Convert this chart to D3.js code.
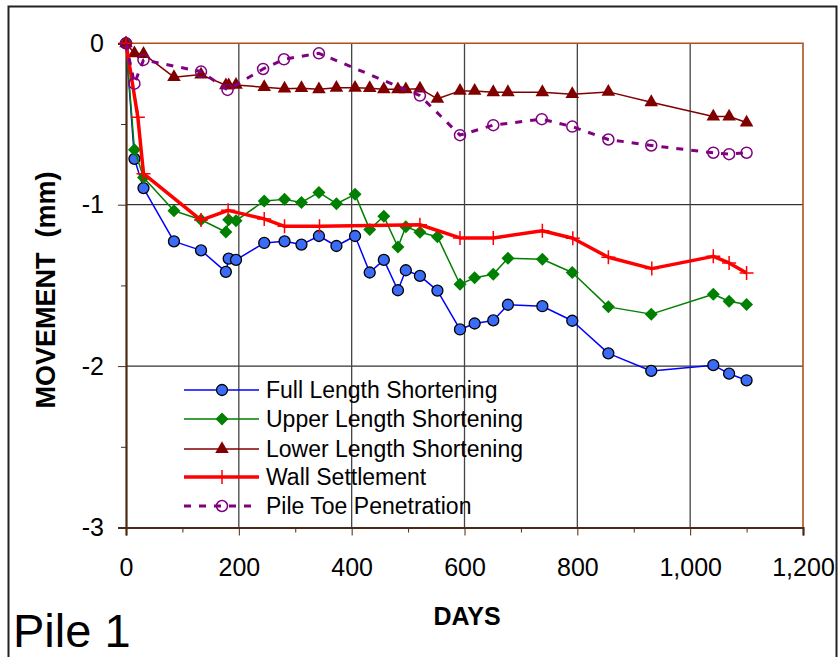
<!DOCTYPE html>
<html>
<head>
<meta charset="utf-8">
<script src="https://cdn.jsdelivr.net/npm/d3@7"></script>
<style>
  body { margin: 0; background: #fff; }
  text { font-family: "Liberation Sans", Arial, sans-serif; fill: #000; }
</style>
</head>
<body>
<svg id="chart" width="839" height="657"></svg>
<script>
// days shared by the three shortening series
var days = [0, 15, 31, 85, 133, 177, 182, 195, 245, 281, 311, 342, 373, 406, 432, 457, 482, 496, 521, 552, 592, 618, 651, 677, 738, 791, 855, 931, 1041, 1069, 1100];
var fullLength = [0, -0.716, -0.897, -1.227, -1.283, -1.416, -1.334, -1.342, -1.237, -1.227, -1.247, -1.194, -1.256, -1.194, -1.42, -1.342, -1.53, -1.406, -1.441, -1.532, -1.773, -1.736, -1.717, -1.62, -1.629, -1.719, -1.921, -2.03, -1.994, -2.047, -2.088];
var upperLength = [0, -0.66, -0.831, -1.037, -1.093, -1.169, -1.093, -1.099, -0.977, -0.967, -0.986, -0.924, -0.994, -0.936, -1.153, -1.072, -1.262, -1.136, -1.171, -1.198, -1.493, -1.453, -1.431, -1.332, -1.338, -1.42, -1.633, -1.678, -1.555, -1.598, -1.618];
var lowerLength = [0, -0.062, -0.066, -0.21, -0.194, -0.26, -0.26, -0.258, -0.272, -0.281, -0.278, -0.285, -0.276, -0.276, -0.278, -0.285, -0.285, -0.285, -0.281, -0.344, -0.295, -0.295, -0.303, -0.303, -0.303, -0.315, -0.301, -0.365, -0.454, -0.454, -0.491];

var wallDays = [0, 21, 31, 133, 181, 245, 281, 343, 521, 592, 651, 738, 792, 855, 932, 1041, 1069, 1100];
var wallSettlement = [0, -0.458, -0.808, -1.095, -1.035, -1.088, -1.134, -1.134, -1.124, -1.206, -1.206, -1.161, -1.208, -1.326, -1.396, -1.32, -1.361, -1.423];

var toeDays = [0, 15, 31, 133, 180, 243, 280, 342, 521, 592, 651, 737, 791, 855, 931, 1041, 1069, 1100];
var toePenetration = [0, -0.25, -0.103, -0.175, -0.289, -0.159, -0.099, -0.062, -0.324, -0.569, -0.507, -0.47, -0.516, -0.596, -0.633, -0.678, -0.687, -0.678];

var xTicks = [0, 200, 400, 600, 800, 1000, 1200];
var yTicks = [0, -1, -2, -3];
var seriesNames = ["Full Length Shortening", "Upper Length Shortening", "Lower Length Shortening", "Wall Settlement", "Pile Toe Penetration"];

var svg = d3.select("#chart");
var plotLeft = 126, plotRight = 803, plotTop = 43.3, plotBottom = 527.5;

var x = d3.scaleLinear().domain([0, 1200]).range([plotLeft, plotRight]);
var y = d3.scaleLinear().domain([-3, 0]).range([plotBottom, plotTop]);

// outer frame
svg.append("rect")
  .attr("x", 8.5).attr("y", 6.5)
  .attr("width", 828).attr("height", 700)
  .attr("fill", "none").attr("stroke", "#222").attr("stroke-width", 2);

// grid
svg.selectAll(".hgrid").data([-1, -2]).enter()
  .append("line")
  .attr("x1", plotLeft).attr("x2", plotRight)
  .attr("y1", function(d) { return y(d); })
  .attr("y2", function(d) { return y(d); })
  .attr("stroke", "#000").attr("stroke-width", 1);
svg.selectAll(".vgrid").data([200, 400, 600, 800, 1000]).enter()
  .append("line")
  .attr("y1", plotTop).attr("y2", plotBottom)
  .attr("x1", function(d) { return x(d); })
  .attr("x2", function(d) { return x(d); })
  .attr("stroke", "#444").attr("stroke-width", 1.3);

// plot border top and right
svg.append("path")
  .attr("d", "M" + plotLeft + "," + plotTop + "H" + plotRight + "V" + plotBottom)
  .attr("fill", "none").attr("stroke", "#b0501c").attr("stroke-width", 1.6);

// minor ticks
svg.append("g")
  .attr("transform", "translate(" + plotLeft + ",0)")
  .call(d3.axisLeft(y).tickValues([-0.5, -1.5, -2.5]).tickSize(5).tickFormat(""))
  .call(function(g) { g.select(".domain").remove(); g.selectAll("line").attr("stroke", "#4b2a14"); });
svg.append("g")
  .attr("transform", "translate(0," + plotBottom + ")")
  .call(d3.axisBottom(x).tickValues([100, 300, 500, 700, 900, 1100]).tickSize(5).tickFormat(""))
  .call(function(g) { g.select(".domain").remove(); g.selectAll("line").attr("stroke", "#4b2a14"); });

// y axis
var yAxis = svg.append("g")
  .attr("transform", "translate(" + plotLeft + ",0)")
  .call(d3.axisLeft(y).tickValues(yTicks).tickSize(8).tickPadding(14)
    .tickFormat(function(d) { return String(d); }));
yAxis.select(".domain").attr("stroke", "#4b2a14").attr("stroke-width", 2.2);
yAxis.selectAll("line").attr("stroke", "#4b2a14");
yAxis.selectAll("text").attr("font-size", 25).attr("font-family", "Liberation Sans");

// x axis
var xAxis = svg.append("g")
  .attr("transform", "translate(0," + plotBottom + ")")
  .call(d3.axisBottom(x).tickValues(xTicks).tickSize(8).tickPadding(23).tickFormat(d3.format(",")));
xAxis.select(".domain").attr("stroke", "#4b2a14").attr("stroke-width", 2.2);
xAxis.selectAll("line").attr("stroke", "#4b2a14");
xAxis.selectAll("text").attr("font-size", 25).attr("font-family", "Liberation Sans");

// axis titles
svg.append("text")
  .attr("x", 467).attr("y", 625)
  .attr("text-anchor", "middle")
  .attr("font-size", 25).attr("font-weight", "bold")
  .text("DAYS");
svg.append("text")
  .attr("transform", "translate(55,290) rotate(-90)")
  .attr("text-anchor", "middle")
  .attr("font-size", 27).attr("font-weight", "bold")
  .attr("xml:space", "preserve")
  .text("MOVEMENT  (mm)");
svg.append("text")
  .attr("x", 13).attr("y", 647)
  .attr("font-size", 47)
  .text("Pile 1");

// series
function pts(xs, ys) {
  return xs.map(function(d, i) { return [d, ys[i]]; });
}
var line = d3.line()
  .x(function(d) { return x(d[0]); })
  .y(function(d) { return y(d[1]); });

var diamond = "M0,-6.5L6.5,0L0,6.5L-6.5,0Z";
var plus = "M-7,0H7M0,-7V7";
var triangle = d3.symbol().type(d3.symbolTriangle).size(80)();

var series = [
  { name: seriesNames[0], data: pts(days, fullLength), color: "#0000ff", width: 1.5, marker: "circle", fill: "#3a6cf8", mstroke: "#000" },
  { name: seriesNames[1], data: pts(days, upperLength), color: "#008000", width: 1.5, marker: diamond, fill: "#008000", mstroke: "none" },
  { name: seriesNames[2], data: pts(days, lowerLength), color: "#800000", width: 1.5, marker: triangle, fill: "#800000", mstroke: "none" },
  { name: seriesNames[3], data: pts(wallDays, wallSettlement), color: "#ff0000", width: 3.5, marker: plus, fill: "none", mstroke: "#ff0000" },
  { name: seriesNames[4], data: pts(toeDays, toePenetration), color: "#800080", width: 3, dash: "7,8", marker: "ocircle", fill: "none", mstroke: "#800080" }
];

function drawMarker(g, s, cx, cy) {
  if (s.marker === "circle") {
    g.append("circle").attr("cx", cx).attr("cy", cy).attr("r", 5.5)
      .attr("fill", s.fill).attr("stroke", s.mstroke).attr("stroke-width", 1.3);
  } else if (s.marker === "ocircle") {
    g.append("circle").attr("cx", cx).attr("cy", cy).attr("r", 5.5)
      .attr("fill", "none").attr("stroke", s.mstroke).attr("stroke-width", 1.5);
  } else {
    g.append("path").attr("d", s.marker)
      .attr("transform", "translate(" + cx + "," + cy + ")")
      .attr("fill", s.fill).attr("stroke", s.mstroke).attr("stroke-width", 1.5);
  }
}

series.forEach(function(s) {
  var g = svg.append("g");
  g.append("path")
    .attr("d", line(s.data))
    .attr("fill", "none")
    .attr("stroke", s.color)
    .attr("stroke-width", s.width)
    .attr("stroke-dasharray", s.dash || null)
    .attr("stroke-linejoin", "round");
  s.data.forEach(function(d) {
    drawMarker(g, s, x(d[0]), y(d[1]));
  });
});

// legend
var legendY = [390, 419, 449, 477, 506];
series.forEach(function(s, i) {
  var g = svg.append("g");
  g.append("line")
    .attr("x1", 184).attr("x2", 259)
    .attr("y1", legendY[i]).attr("y2", legendY[i])
    .attr("stroke", s.color).attr("stroke-width", s.width)
    .attr("stroke-dasharray", s.dash || null);
  drawMarker(g, s, 222, legendY[i]);
  g.append("text")
    .attr("x", 266).attr("y", legendY[i] + 8)
    .attr("font-size", 23)
    .text(s.name);
});
</script>
</body>
</html>
